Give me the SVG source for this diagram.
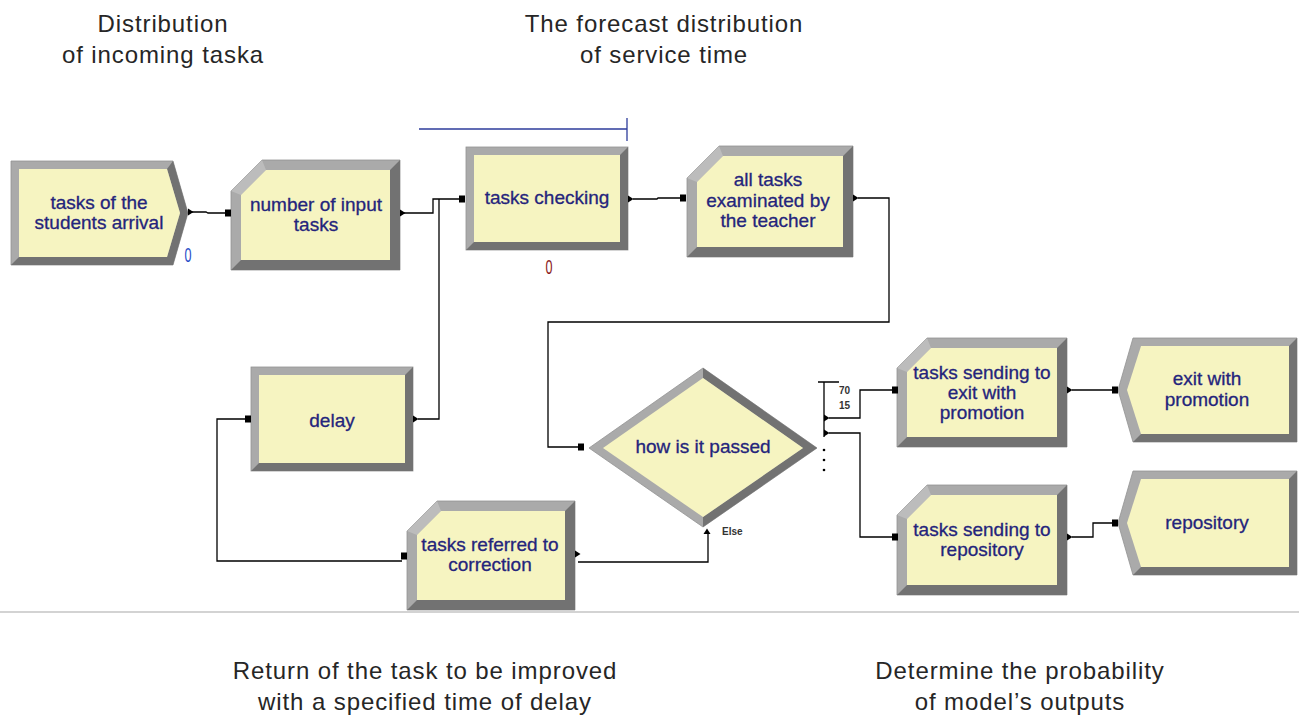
<svg xmlns="http://www.w3.org/2000/svg" xmlns:xlink="http://www.w3.org/1999/xlink" width="1299" height="715" viewBox="0 0 1299 715">
<style>
.lt{fill:#aaaaaa;stroke:#939393;stroke-width:0.8}
.cut{fill:#bcbcbc}
.dk{fill:#727272}
.in{fill:#f6f4c1}
.nt{font-family:"Liberation Sans",Arial,sans-serif;font-size:19px;fill:#24247c;stroke:#24247c;stroke-width:0.3;text-anchor:middle}
.cap{font-family:"Liberation Sans",Arial,sans-serif;font-size:24px;letter-spacing:0.9px;fill:#262626;text-anchor:middle}
.cn{fill:none;stroke:#000;stroke-width:1.3}
.sm{font-family:"Liberation Sans",Arial,sans-serif;font-size:10px;font-weight:bold;fill:#333}
.zero{font-family:"Liberation Sans",Arial,sans-serif;font-size:21px;text-anchor:middle}
</style>
<defs>
<rect id="sq" x="-3" y="-3.5" width="6" height="7" fill="#000"/>
<path id="tri" d="M0,-3.5 L5.5,0 L0,3.5 Z" fill="#000"/>
<path id="triu" d="M-3.5,0 L0,-5.5 L3.5,0 Z" fill="#000"/>
</defs>
<rect width="1299" height="715" fill="#fff"/>

<g id="captions">
<text class="cap" x="163" y="32">Distribution</text>
<text class="cap" x="163" y="63">of incoming taska</text>
<text class="cap" x="664" y="32">The forecast distribution</text>
<text class="cap" x="664" y="63">of service time</text>
<text class="cap" x="425" y="679">Return of the task to be improved</text>
<text class="cap" x="425" y="710">with a specified time of delay</text>
<text class="cap" x="1020" y="679">Determine the probability</text>
<text class="cap" x="1020" y="710">of model’s outputs</text>
</g>

<line x1="0" y1="612" x2="1299" y2="612" stroke="#c4c4c4" stroke-width="1.5"/>

<g id="n1">
<polygon class="lt" points="11,161 173,161 188,213 173,265 11,265"/>
<polygon class="dk" points="173,161 188,213 173,265 11,265 19,257 167,257 180,213 167,169"/>
<polygon class="in" points="19,169 167,169 180,213 167,257 19,257"/>
<text class="nt" x="99" y="209">tasks of the</text>
<text class="nt" x="99" y="229">students arrival</text>
<text class="zero" x="188" y="262" fill="#2a4fc8" transform="translate(188 0) scale(0.6 1) translate(-188 0)">0</text>
</g>

<g id="n2">
<polygon class="lt" points="231,191 262,160 400,160 400,270 231,270"/>
<polygon class="dk" points="400,160 400,270 231,270 241,260 390,260 390,170"/>
<polygon class="cut" points="231,191 262,160 266,170 241,195"/>
<polygon class="in" points="241,195 266,170 390,170 390,260 241,260"/>
<text class="nt" x="316" y="211">number of input</text>
<text class="nt" x="316" y="231">tasks</text>
</g>

<g id="n3">
<rect class="lt" x="466" y="147" width="162" height="103"/>
<polygon class="dk" points="628,147 628,250 466,250 474,242 620,242 620,155"/>
<rect class="in" x="474" y="155" width="146" height="87"/>
<text class="nt" x="547" y="204">tasks checking</text>
<text class="zero" x="549" y="274" fill="#8b1c1c" transform="translate(549 0) scale(0.6 1) translate(-549 0)">0</text>
<path d="M419,129 L627,129 M627,118 L627,141" fill="none" stroke="#2e3d9c" stroke-width="1.3"/>
</g>

<g id="n4">
<polygon class="lt" points="687,178 719,146 853,146 853,257 687,257"/>
<polygon class="dk" points="853,146 853,257 687,257 697,247 843,247 843,156"/>
<polygon class="cut" points="687,178 719,146 723,156 697,182"/>
<polygon class="in" points="697,182 723,156 843,156 843,247 697,247"/>
<text class="nt" x="768" y="186">all tasks</text>
<text class="nt" x="768" y="207">examinated by</text>
<text class="nt" x="768" y="227">the teacher</text>
</g>

<g id="n5">
<rect class="lt" x="251" y="367" width="162" height="104"/>
<polygon class="dk" points="413,367 413,471 251,471 259,463 405,463 405,375"/>
<rect class="in" x="259" y="375" width="146" height="88"/>
<text class="nt" x="332" y="427">delay</text>
</g>

<g id="n6">
<polygon class="lt" points="589,448 703,368 817,448 703,527"/>
<polygon class="dk" points="703,368 817,448 703,527 703,517 803,448 703,378"/>
<polygon class="in" points="603,448 703,378 803,448 703,517"/>
<text class="nt" x="703" y="453">how is it passed</text>
<text class="sm" x="722" y="535">Else</text>
<text class="sm" x="839" y="394">70</text>
<text class="sm" x="839" y="409">15</text>
</g>

<g id="n7">
<polygon class="lt" points="407,531 437,501 575,501 575,610 407,610"/>
<polygon class="dk" points="575,501 575,610 407,610 417,600 565,600 565,511"/>
<polygon class="cut" points="407,531 437,501 441,511 417,535"/>
<polygon class="in" points="417,535 441,511 565,511 565,600 417,600"/>
<text class="nt" x="490" y="551">tasks referred to</text>
<text class="nt" x="490" y="571">correction</text>
</g>

<g id="n8">
<polygon class="lt" points="897,368 927,338 1067,338 1067,447 897,447"/>
<polygon class="dk" points="1067,338 1067,447 897,447 907,437 1057,437 1057,348"/>
<polygon class="cut" points="897,368 927,338 931,348 907,372"/>
<polygon class="in" points="907,372 931,348 1057,348 1057,437 907,437"/>
<text class="nt" x="982" y="379">tasks sending to</text>
<text class="nt" x="982" y="399">exit with</text>
<text class="nt" x="982" y="419">promotion</text>
</g>

<g id="n9">
<polygon class="lt" points="897,515 927,485 1067,485 1067,595 897,595"/>
<polygon class="dk" points="1067,485 1067,595 897,595 907,585 1057,585 1057,495"/>
<polygon class="cut" points="897,515 927,485 931,495 907,519"/>
<polygon class="in" points="907,519 931,495 1057,495 1057,585 907,585"/>
<text class="nt" x="982" y="536">tasks sending to</text>
<text class="nt" x="982" y="556">repository</text>
</g>

<g id="n10">
<polygon class="lt" points="1133,338 1297,338 1297,442 1133,442 1118,390"/>
<polygon class="dk" points="1297,338 1297,442 1133,442 1141,434 1289,434 1289,346"/>
<polygon class="in" points="1141,346 1289,346 1289,434 1141,434 1127,390"/>
<text class="nt" x="1207" y="385">exit with</text>
<text class="nt" x="1207" y="406">promotion</text>
</g>

<g id="n11">
<polygon class="lt" points="1133,471 1297,471 1297,575 1133,575 1118,523"/>
<polygon class="dk" points="1297,471 1297,575 1133,575 1141,567 1289,567 1289,479"/>
<polygon class="in" points="1141,479 1289,479 1289,567 1141,567 1127,523"/>
<text class="nt" x="1207" y="529">repository</text>
</g>

<g id="connectors">
<path class="cn" d="M192,212 L206,212 L208,213 L226,213"/>
<use xlink:href="#tri" x="188" y="212"/>
<use xlink:href="#sq" x="228" y="213"/>

<path class="cn" d="M404,213 L433,213 L433,199 L460,199"/>
<use xlink:href="#tri" x="400" y="213"/>
<use xlink:href="#sq" x="462" y="199"/>

<path class="cn" d="M418,419 L439,419 L439,199"/>
<use xlink:href="#tri" x="413" y="419"/>

<path class="cn" d="M633,199 L657,199 L658,198 L681,198"/>
<use xlink:href="#tri" x="628" y="199"/>
<use xlink:href="#sq" x="683" y="198"/>

<path class="cn" d="M858,198 L889,198 L889,322 L548,322 L548,447 L578,447"/>
<use xlink:href="#tri" x="853" y="198"/>
<use xlink:href="#sq" x="581" y="447"/>

<path class="cn" d="M578,562 L708,562 L708,533"/>
<use xlink:href="#tri" x="575" y="554"/>
<use xlink:href="#triu" x="707" y="534"/>

<path class="cn" d="M245,419 L217,419 L217,561 L402,561"/>
<use xlink:href="#sq" x="248" y="419"/>
<use xlink:href="#sq" x="404" y="556"/>

<path class="cn" d="M818,382 L839,382 M824,382 L824,437"/>
<use xlink:href="#tri" x="824" y="418"/>
<use xlink:href="#tri" x="824" y="433"/>
<path class="cn" d="M829,418 L860,418 L860,390 L893,390"/>
<path class="cn" d="M829,433 L860,433 L860,537 L893,537"/>
<use xlink:href="#sq" x="895" y="390"/>
<use xlink:href="#sq" x="895" y="537"/>
<circle cx="824" cy="450" r="1.3" fill="#000"/>
<circle cx="824" cy="460" r="1.3" fill="#000"/>
<circle cx="824" cy="470" r="1.3" fill="#000"/>

<path class="cn" d="M1072,390 L1113,390"/>
<use xlink:href="#tri" x="1067" y="390"/>
<use xlink:href="#sq" x="1115" y="390"/>

<path class="cn" d="M1072,537 L1093,537 L1093,523 L1113,523"/>
<use xlink:href="#tri" x="1067" y="537"/>
<use xlink:href="#sq" x="1115" y="523"/>
</g>
</svg>
